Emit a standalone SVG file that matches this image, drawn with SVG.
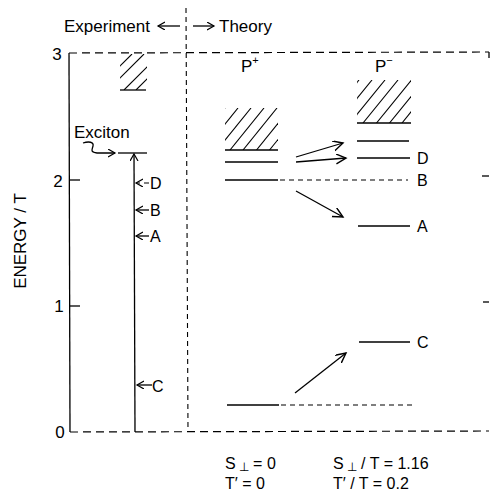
<svg xmlns="http://www.w3.org/2000/svg" width="490" height="493" viewBox="0 0 490 493">
<style>
text{font-family:"Liberation Sans",Arial,sans-serif;fill:#000}
.t17{font-size:17px}
.t16{font-size:16px}
.ln{stroke:#000;stroke-width:1.3;fill:none}
.dash{stroke:#000;stroke-width:1.2;fill:none;stroke-dasharray:8 5}
.dsh2{stroke:#000;stroke-width:1.1;fill:none;stroke-dasharray:5 4}
.h{stroke:#000;stroke-width:1.1}
</style>
<defs>
<marker id="ah" markerUnits="userSpaceOnUse" markerWidth="14" markerHeight="14" refX="10" refY="5" orient="auto">
<path d="M0,0 L10,5 L0,10" fill="none" stroke="#000" stroke-width="1.4"/>
</marker>
<marker id="as" markerUnits="userSpaceOnUse" markerWidth="10" markerHeight="10" refX="7" refY="4" orient="auto">
<path d="M0,0 L7,4 L0,8" fill="none" stroke="#000" stroke-width="1.2"/>
</marker>
<clipPath id="cE"><rect x="120" y="54" width="27" height="36"/></clipPath>
<clipPath id="cP"><rect x="225" y="108" width="53" height="42"/></clipPath>
<clipPath id="cM"><rect x="357" y="80" width="54" height="43"/></clipPath>
</defs>

<g id="frame">
<line class="ln" x1="69" y1="53" x2="70" y2="432"/>
<line class="dash" x1="69" y1="53" x2="489" y2="52"/>
<line class="ln" x1="489" y1="52" x2="489" y2="58"/>
<line class="dash" x1="70" y1="432" x2="489" y2="431"/>
<line class="dsh2" x1="186" y1="8" x2="188" y2="432"/>
<line class="ln" x1="69" y1="180" x2="80" y2="180"/>
<line class="ln" x1="69" y1="306" x2="80" y2="306"/>
<line class="ln" x1="482" y1="176" x2="489" y2="176"/>
<line class="ln" x1="483" y1="302" x2="489" y2="302"/>
<text class="t17" x="57" y="60" text-anchor="middle">3</text>
<text class="t17" x="58" y="187" text-anchor="middle">2</text>
<text class="t17" x="59" y="312" text-anchor="middle">1</text>
<text class="t17" x="60" y="438" text-anchor="middle">0</text>
<text class="t17" transform="translate(26,241) rotate(-90)" text-anchor="middle">ENERGY / T</text>
</g>

<g id="header">
<text class="t17" x="64" y="32">Experiment</text>
<line class="ln" x1="180" y1="26" x2="158" y2="26" marker-end="url(#as)"/>
<line class="ln" x1="193" y1="26" x2="214" y2="26" marker-end="url(#as)"/>
<text class="t17" x="219" y="32">Theory</text>
</g>

<g id="experiment">
<g clip-path="url(#cE)">
<line class="h" x1="96" y1="90" x2="132" y2="54"/>
<line class="h" x1="108" y1="90" x2="144" y2="54"/>
<line class="h" x1="124" y1="90" x2="160" y2="54"/>
<line class="h" x1="136" y1="90" x2="172" y2="54"/>
</g>
<line class="ln" x1="120" y1="90" x2="146" y2="90"/>
<line class="ln" x1="118" y1="153" x2="147" y2="153"/>
<line class="ln" x1="135" y1="432" x2="134" y2="154" marker-end="url(#as)"/>
<text class="t17" x="74" y="138">Exciton</text>
<path class="ln" d="M83,143 C89,141 94,142 93,146 C92,150 90,152 97,153 L115,153" marker-end="url(#as)"/>
<line class="dsh2" x1="149" y1="183" x2="136" y2="183" stroke-dasharray="3 2" marker-end="url(#as)"/>
<text class="t16" x="150" y="189">D</text>
<line class="ln" x1="149" y1="210" x2="136" y2="210" marker-end="url(#as)"/>
<text class="t16" x="150" y="216">B</text>
<line class="ln" x1="149" y1="236" x2="136" y2="236" marker-end="url(#as)"/>
<text class="t16" x="150" y="242">A</text>
<line class="ln" x1="152" y1="385" x2="137" y2="385" marker-end="url(#as)"/>
<text class="t16" x="152" y="392">C</text>
</g>

<g id="P-plus">
<text class="t17" x="241" y="72">P<tspan font-size="11" dy="-8">+</tspan></text>
<g clip-path="url(#cP)">
<line class="h" x1="191" y1="150" x2="225" y2="108"/>
<line class="h" x1="204" y1="150" x2="238" y2="108"/>
<line class="h" x1="217" y1="150" x2="251" y2="108"/>
<line class="h" x1="230" y1="150" x2="264" y2="108"/>
<line class="h" x1="243" y1="150" x2="277" y2="108"/>
<line class="h" x1="256.5" y1="150" x2="290.5" y2="108"/>
<line class="h" x1="269.5" y1="150" x2="303.5" y2="108"/>
</g>
<line class="ln" x1="225" y1="150" x2="278" y2="150"/>
<line class="ln" x1="225" y1="162" x2="278" y2="162"/>
<line class="ln" x1="225" y1="180" x2="278" y2="180"/>
<line class="ln" x1="227" y1="405" x2="279" y2="405"/>
</g>

<g id="P-minus">
<text class="t17" x="375" y="72">P<tspan font-size="11" dy="-8">−</tspan></text>
<g clip-path="url(#cM)">
<line class="h" x1="324" y1="123" x2="359" y2="80"/>
<line class="h" x1="337" y1="123" x2="372" y2="80"/>
<line class="h" x1="350" y1="123" x2="385" y2="80"/>
<line class="h" x1="363" y1="123" x2="398" y2="80"/>
<line class="h" x1="376.5" y1="123" x2="411.5" y2="80"/>
<line class="h" x1="389.5" y1="123" x2="424.5" y2="80"/>
<line class="h" x1="402" y1="123" x2="437" y2="80"/>
</g>
<line class="ln" x1="357" y1="123" x2="411" y2="123"/>
<line class="ln" x1="357" y1="141" x2="409" y2="141"/>
<line class="ln" x1="357" y1="158" x2="410" y2="158"/>
<line class="ln" x1="358" y1="226" x2="410" y2="226"/>
<line class="ln" x1="359" y1="342" x2="410" y2="342"/>
<text class="t16" x="417" y="164">D</text>
<text class="t16" x="417" y="186">B</text>
<text class="t16" x="417" y="232">A</text>
<text class="t16" x="417" y="348">C</text>
</g>

<g id="connectors">
<line class="dsh2" x1="280" y1="180" x2="408" y2="180"/>
<line class="dsh2" x1="281" y1="405" x2="415" y2="405"/>
<line class="ln" x1="296" y1="157" x2="343" y2="143" marker-end="url(#ah)"/>
<line class="ln" x1="296" y1="162" x2="346" y2="158" marker-end="url(#ah)"/>
<line class="ln" x1="296" y1="191" x2="343" y2="217" marker-end="url(#ah)"/>
<line class="ln" x1="295" y1="393" x2="346" y2="353" marker-end="url(#ah)"/>
</g>

<g id="legend">
<text class="t16" x="225" y="469">S<tspan font-size="12" dx="3" dy="2">⊥</tspan><tspan dy="-2"> = 0</tspan></text>
<text class="t16" x="225" y="489">T′ = 0</text>
<text class="t16" x="333" y="469">S<tspan font-size="12" dx="3" dy="2">⊥</tspan><tspan dy="-2"> / T = 1.16</tspan></text>
<text class="t16" x="333" y="489">T′ / T = 0.2</text>
</g>
</svg>
